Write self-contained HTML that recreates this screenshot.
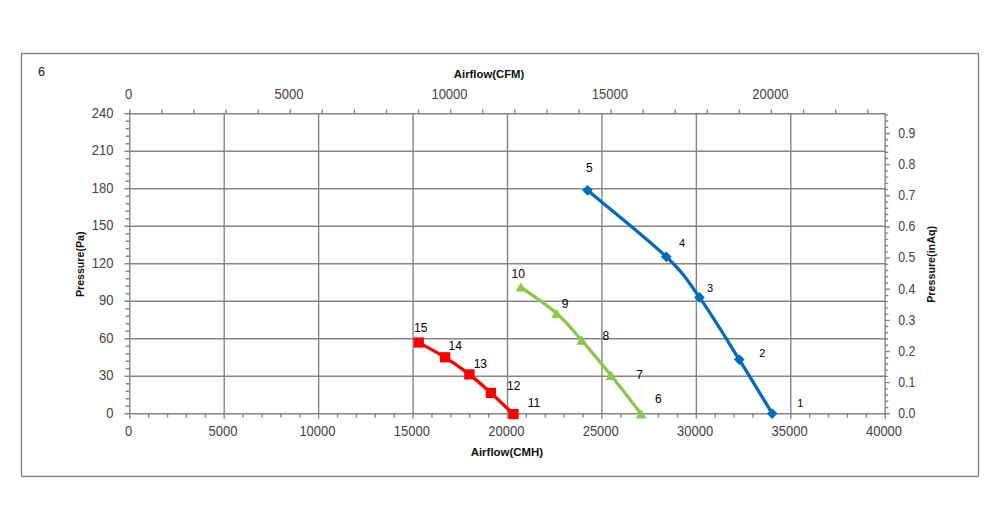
<!DOCTYPE html>
<html><head><meta charset="utf-8"><title>Fan curve</title>
<style>
html,body{margin:0;padding:0;background:#fff;}
body{width:1000px;height:530px;overflow:hidden;}
svg{display:block;font-family:"Liberation Sans", Arial, sans-serif;}
</style></head><body>
<svg width="1000" height="530" viewBox="0 0 1000 530">
<rect x="21.5" y="53.5" width="957" height="422.9" fill="none" stroke="#7e7e7e" stroke-width="1.3"/>
<text x="38" y="76" font-size="12.6" fill="#111">6</text>
<path d="M224.23 113.75V413.75M318.65 113.75V413.75M413.08 113.75V413.75M507.5 113.75V413.75M601.93 113.75V413.75M696.35 113.75V413.75M790.78 113.75V413.75M129.8 376.25H885.2M129.8 338.75H885.2M129.8 301.25H885.2M129.8 263.75H885.2M129.8 226.25H885.2M129.8 188.75H885.2M129.8 151.25H885.2M129.8 113.75H885.2V413.75H129.8ZM124.5 413.75H129.8M125.7 406.25H129.8M125.7 398.75H129.8M125.7 391.25H129.8M125.7 383.75H129.8M124.5 376.25H129.8M125.7 368.75H129.8M125.7 361.25H129.8M125.7 353.75H129.8M125.7 346.25H129.8M124.5 338.75H129.8M125.7 331.25H129.8M125.7 323.75H129.8M125.7 316.25H129.8M125.7 308.75H129.8M124.5 301.25H129.8M125.7 293.75H129.8M125.7 286.25H129.8M125.7 278.75H129.8M125.7 271.25H129.8M124.5 263.75H129.8M125.7 256.25H129.8M125.7 248.75H129.8M125.7 241.25H129.8M125.7 233.75H129.8M124.5 226.25H129.8M125.7 218.75H129.8M125.7 211.25H129.8M125.7 203.75H129.8M125.7 196.25H129.8M124.5 188.75H129.8M125.7 181.25H129.8M125.7 173.75H129.8M125.7 166.25H129.8M125.7 158.75H129.8M124.5 151.25H129.8M125.7 143.75H129.8M125.7 136.25H129.8M125.7 128.75H129.8M125.7 121.25H129.8M124.5 113.75H129.8M129.8 413.75V418.75M148.69 413.75V417.55M167.57 413.75V417.55M186.46 413.75V417.55M205.34 413.75V417.55M224.23 413.75V418.75M243.11 413.75V417.55M262 413.75V417.55M280.88 413.75V417.55M299.77 413.75V417.55M318.65 413.75V418.75M337.54 413.75V417.55M356.42 413.75V417.55M375.31 413.75V417.55M394.19 413.75V417.55M413.08 413.75V418.75M431.96 413.75V417.55M450.85 413.75V417.55M469.73 413.75V417.55M488.62 413.75V417.55M507.5 413.75V418.75M526.38 413.75V417.55M545.27 413.75V417.55M564.16 413.75V417.55M583.04 413.75V417.55M601.93 413.75V418.75M620.81 413.75V417.55M639.7 413.75V417.55M658.58 413.75V417.55M677.47 413.75V417.55M696.35 413.75V418.75M715.24 413.75V417.55M734.12 413.75V417.55M753.01 413.75V417.55M771.89 413.75V417.55M790.78 413.75V418.75M809.66 413.75V417.55M828.55 413.75V417.55M847.43 413.75V417.55M866.32 413.75V417.55M885.2 413.75V418.75M129.8 109.55V113.75M161.89 109.55V113.75M193.97 109.55V113.75M226.06 109.55V113.75M258.14 109.55V113.75M290.23 109.55V113.75M322.31 109.55V113.75M354.4 109.55V113.75M386.49 109.55V113.75M418.57 109.55V113.75M450.66 109.55V113.75M482.74 109.55V113.75M514.83 109.55V113.75M546.92 109.55V113.75M579 109.55V113.75M611.09 109.55V113.75M643.17 109.55V113.75M675.26 109.55V113.75M707.34 109.55V113.75M739.43 109.55V113.75M771.52 109.55V113.75M803.6 109.55V113.75M835.69 109.55V113.75M867.77 109.55V113.75M885.2 413.75H889.7M885.2 407.52H888.2M885.2 401.3H888.2M885.2 395.07H888.2M885.2 388.84H888.2M885.2 382.61H889.7M885.2 376.39H888.2M885.2 370.16H888.2M885.2 363.93H888.2M885.2 357.7H888.2M885.2 351.48H889.7M885.2 345.25H888.2M885.2 339.02H888.2M885.2 332.8H888.2M885.2 326.57H888.2M885.2 320.34H889.7M885.2 314.11H888.2M885.2 307.89H888.2M885.2 301.66H888.2M885.2 295.43H888.2M885.2 289.21H889.7M885.2 282.98H888.2M885.2 276.75H888.2M885.2 270.52H888.2M885.2 264.3H888.2M885.2 258.07H889.7M885.2 251.84H888.2M885.2 245.61H888.2M885.2 239.39H888.2M885.2 233.16H888.2M885.2 226.93H889.7M885.2 220.71H888.2M885.2 214.48H888.2M885.2 208.25H888.2M885.2 202.02H888.2M885.2 195.8H889.7M885.2 189.57H888.2M885.2 183.34H888.2M885.2 177.12H888.2M885.2 170.89H888.2M885.2 164.66H889.7M885.2 158.43H888.2M885.2 152.21H888.2M885.2 145.98H888.2M885.2 139.75H888.2M885.2 133.52H889.7M885.2 127.3H888.2M885.2 121.07H888.2M885.2 114.84H888.2" fill="none" stroke="#858585" stroke-width="1.4"/>
<text transform="translate(113.5 417.76) scale(1 1.14)" text-anchor="end" font-size="13" fill="#444">0</text>
<text transform="translate(113.5 380.26) scale(1 1.14)" text-anchor="end" font-size="13" fill="#444">30</text>
<text transform="translate(113.5 342.76) scale(1 1.14)" text-anchor="end" font-size="13" fill="#444">60</text>
<text transform="translate(113.5 305.26) scale(1 1.14)" text-anchor="end" font-size="13" fill="#444">90</text>
<text transform="translate(113.5 267.76) scale(1 1.14)" text-anchor="end" font-size="13" fill="#444">120</text>
<text transform="translate(113.5 230.26) scale(1 1.14)" text-anchor="end" font-size="13" fill="#444">150</text>
<text transform="translate(113.5 192.76) scale(1 1.14)" text-anchor="end" font-size="13" fill="#444">180</text>
<text transform="translate(113.5 155.26) scale(1 1.14)" text-anchor="end" font-size="13" fill="#444">210</text>
<text transform="translate(113.5 117.76) scale(1 1.14)" text-anchor="end" font-size="13" fill="#444">240</text>
<text transform="translate(128.6 435.51) scale(1 1.1)" text-anchor="middle" font-size="13" fill="#444">0</text>
<text transform="translate(223.03 435.51) scale(1 1.1)" text-anchor="middle" font-size="13" fill="#444">5000</text>
<text transform="translate(317.45 435.51) scale(1 1.1)" text-anchor="middle" font-size="13" fill="#444">10000</text>
<text transform="translate(411.88 435.51) scale(1 1.1)" text-anchor="middle" font-size="13" fill="#444">15000</text>
<text transform="translate(506.3 435.51) scale(1 1.1)" text-anchor="middle" font-size="13" fill="#444">20000</text>
<text transform="translate(600.73 435.51) scale(1 1.1)" text-anchor="middle" font-size="13" fill="#444">25000</text>
<text transform="translate(695.15 435.51) scale(1 1.1)" text-anchor="middle" font-size="13" fill="#444">30000</text>
<text transform="translate(789.58 435.51) scale(1 1.1)" text-anchor="middle" font-size="13" fill="#444">35000</text>
<text transform="translate(884 435.51) scale(1 1.1)" text-anchor="middle" font-size="13" fill="#444">40000</text>
<text transform="translate(128.6 99.31) scale(1 1.1)" text-anchor="middle" font-size="13" fill="#444">0</text>
<text transform="translate(289.03 99.31) scale(1 1.1)" text-anchor="middle" font-size="13" fill="#444">5000</text>
<text transform="translate(449.46 99.31) scale(1 1.1)" text-anchor="middle" font-size="13" fill="#444">10000</text>
<text transform="translate(609.89 99.31) scale(1 1.1)" text-anchor="middle" font-size="13" fill="#444">15000</text>
<text transform="translate(770.32 99.31) scale(1 1.1)" text-anchor="middle" font-size="13" fill="#444">20000</text>
<text transform="translate(898.2 418.06) scale(1 1.17)" text-anchor="start" font-size="12.3" fill="#444">0.0</text>
<text transform="translate(898.2 386.92) scale(1 1.17)" text-anchor="start" font-size="12.3" fill="#444">0.1</text>
<text transform="translate(898.2 355.79) scale(1 1.17)" text-anchor="start" font-size="12.3" fill="#444">0.2</text>
<text transform="translate(898.2 324.65) scale(1 1.17)" text-anchor="start" font-size="12.3" fill="#444">0.3</text>
<text transform="translate(898.2 293.52) scale(1 1.17)" text-anchor="start" font-size="12.3" fill="#444">0.4</text>
<text transform="translate(898.2 262.38) scale(1 1.17)" text-anchor="start" font-size="12.3" fill="#444">0.5</text>
<text transform="translate(898.2 231.24) scale(1 1.17)" text-anchor="start" font-size="12.3" fill="#444">0.6</text>
<text transform="translate(898.2 200.11) scale(1 1.17)" text-anchor="start" font-size="12.3" fill="#444">0.7</text>
<text transform="translate(898.2 168.97) scale(1 1.17)" text-anchor="start" font-size="12.3" fill="#444">0.8</text>
<text transform="translate(898.2 137.83) scale(1 1.17)" text-anchor="start" font-size="12.3" fill="#444">0.9</text>
<text x="489.05" y="77.9" textLength="70.5" font-size="11" font-weight="bold" fill="#111" text-anchor="middle" lengthAdjust="spacingAndGlyphs">Airflow(CFM)</text>
<text x="506.9" y="455.9" textLength="72.4" font-size="11" font-weight="bold" fill="#111" text-anchor="middle" lengthAdjust="spacingAndGlyphs">Airflow(CMH)</text>
<text transform="translate(83.9 264.3) rotate(-90)" textLength="65.6" font-size="11" font-weight="bold" fill="#111" text-anchor="middle" lengthAdjust="spacingAndGlyphs">Pressure(Pa)</text>
<text transform="translate(934.5 264.4) rotate(-90)" textLength="76.8" font-size="11" font-weight="bold" fill="#111" text-anchor="middle" lengthAdjust="spacingAndGlyphs">Pressure(inAq)</text>
<path d="M772.2 413.6C766.72 404.6 751.42 378.97 739.3 359.6C727.18 340.23 711.67 314.53 699.5 297.4C687.33 280.27 684.97 274.65 666.3 256.8C647.63 238.95 600.63 201.38 587.5 190.3" fill="none" stroke="#036bbb" stroke-width="3.3" stroke-linejoin="round"/>
<path d="M641.2 414C636.18 407.58 621.02 387.78 611.1 375.5C601.18 363.22 590.77 350.63 581.7 340.3C572.63 329.97 566.85 322.37 556.7 313.5C546.55 304.63 526.78 291.5 520.8 287.1" fill="none" stroke="#8ac84c" stroke-width="3.3" stroke-linejoin="round"/>
<path d="M513.5 414.1C509.73 410.57 498.25 399.52 490.9 392.9C483.55 386.28 477.03 380.33 469.4 374.4C461.77 368.47 453.55 362.62 445.1 357.3C436.65 351.98 423.1 344.97 418.7 342.5" fill="none" stroke="#ff0000" stroke-width="3.3" stroke-linejoin="round"/>
<path d="M772.2 408.25L777.55 413.6L772.2 418.95L766.85 413.6Z" fill="#036bbb"/>
<path d="M739.3 354.25L744.65 359.6L739.3 364.95L733.95 359.6Z" fill="#036bbb"/>
<path d="M699.5 292.05L704.85 297.4L699.5 302.75L694.15 297.4Z" fill="#036bbb"/>
<path d="M666.3 251.45L671.65 256.8L666.3 262.15L660.95 256.8Z" fill="#036bbb"/>
<path d="M587.5 184.95L592.85 190.3L587.5 195.65L582.15 190.3Z" fill="#036bbb"/>
<path d="M641.2 409.3L646.6 418.4L635.8 418.4Z" fill="#8ac84c"/>
<path d="M611.1 370.8L616.5 379.9L605.7 379.9Z" fill="#8ac84c"/>
<path d="M581.7 335.6L587.1 344.7L576.3 344.7Z" fill="#8ac84c"/>
<path d="M556.7 308.8L562.1 317.9L551.3 317.9Z" fill="#8ac84c"/>
<path d="M520.8 282.4L526.2 291.5L515.4 291.5Z" fill="#8ac84c"/>
<rect x="508.3" y="409" width="10.4" height="10.2" fill="#ff0000"/>
<rect x="485.7" y="387.8" width="10.4" height="10.2" fill="#ff0000"/>
<rect x="464.2" y="369.3" width="10.4" height="10.2" fill="#ff0000"/>
<rect x="439.9" y="352.2" width="10.4" height="10.2" fill="#ff0000"/>
<rect x="413.5" y="337.4" width="10.4" height="10.2" fill="#ff0000"/>
<text x="797.3" y="406.6" font-size="11" fill="#000">1</text>
<text x="759.2" y="356.8" font-size="11" fill="#000">2</text>
<text x="707" y="291.9" font-size="11" fill="#000">3</text>
<text x="679" y="247.2" font-size="11" fill="#000">4</text>
<text x="586.1" y="171.6" font-size="12" fill="#000">5</text>
<text x="655" y="403.2" font-size="12" fill="#000">6</text>
<text x="636.2" y="379" font-size="12" fill="#000">7</text>
<text x="602.6" y="340.4" font-size="12" fill="#000">8</text>
<text x="561.7" y="307.9" font-size="12" fill="#000">9</text>
<text x="511.6" y="277.9" font-size="12" fill="#000">10</text>
<text x="527.8" y="407.1" font-size="12" fill="#000">11</text>
<text x="507.1" y="390.1" font-size="12" fill="#000">12</text>
<text x="473.7" y="367.7" font-size="12" fill="#000">13</text>
<text x="448.6" y="349.7" font-size="12" fill="#000">14</text>
<text x="414" y="332" font-size="12" fill="#000">15</text>
</svg>
</body></html>
